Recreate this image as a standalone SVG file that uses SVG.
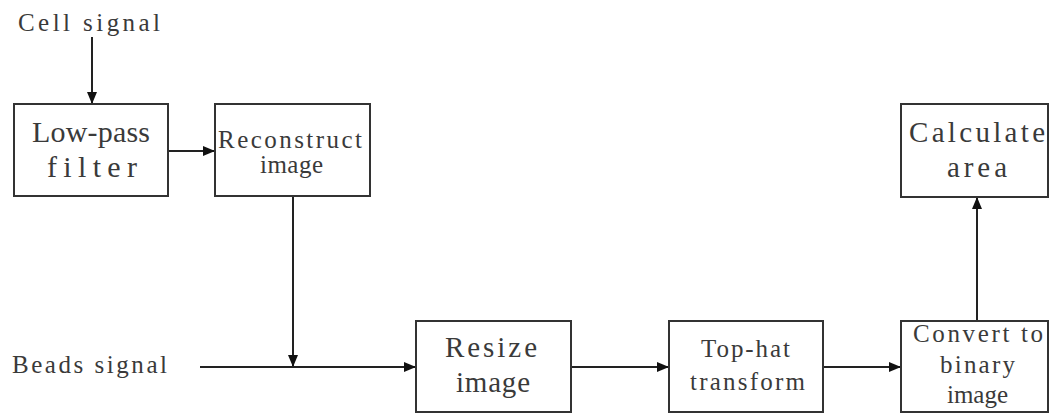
<svg xmlns="http://www.w3.org/2000/svg" width="1050" height="416" viewBox="0 0 1050 416">
<style>
.box{fill:#fff;stroke:#333;stroke-width:2}
.t{font-family:"Liberation Serif","DejaVu Serif",serif;fill:#3a3a3a;text-anchor:middle}
.l{font-family:"Liberation Serif","DejaVu Serif",serif;fill:#3a3a3a;font-size:25px}
.c{stroke:#222;stroke-width:2;fill:none;marker-end:url(#ah)}
</style>
<defs>
<marker id="ah" markerUnits="userSpaceOnUse" markerWidth="12" markerHeight="10" refX="12" refY="5" orient="auto">
<path d="M0,0 L12,5 L0,10 Z" fill="#111"/>
</marker>
</defs>
<rect width="1050" height="416" fill="#fff"/>
<text class="l" x="18" y="31" textLength="142" lengthAdjust="spacing">Cell signal</text>
<text class="l" x="12" y="373" textLength="155" lengthAdjust="spacing">Beads signal</text>
<g id="connectors">
<line class="c" x1="92" y1="37" x2="92" y2="104"/>
<line class="c" x1="168" y1="151" x2="215" y2="151"/>
<line class="c" x1="293" y1="197" x2="293" y2="367"/>
<line class="c" x1="200" y1="367" x2="416" y2="367"/>
<line class="c" x1="571" y1="367" x2="669" y2="367"/>
<line class="c" x1="823" y1="367" x2="901" y2="367"/>
<line class="c" x1="977" y1="321" x2="977" y2="197"/>
</g>
<g id="lowpass">
<rect class="box" x="14" y="104" width="154" height="92"/>
<text class="t" x="91" y="142" font-size="30" textLength="118" lengthAdjust="spacing">Low-pass</text>
<text class="t" x="92" y="177" font-size="30" textLength="90" lengthAdjust="spacing">filter</text>
</g>
<g id="reconstruct">
<rect class="box" x="215" y="104" width="155" height="92"/>
<text class="t" x="290" y="148" font-size="25" textLength="144" lengthAdjust="spacing">Reconstruct</text>
<text class="t" x="291.5" y="173" font-size="25" textLength="63" lengthAdjust="spacing">image</text>
</g>
<g id="resize">
<rect class="box" x="416" y="321" width="155" height="91"/>
<text class="t" x="491" y="357" font-size="29" textLength="92" lengthAdjust="spacing">Resize</text>
<text class="t" x="493" y="392" font-size="29" textLength="74" lengthAdjust="spacing">image</text>
</g>
<g id="tophat">
<rect class="box" x="669" y="321" width="154" height="91"/>
<text class="t" x="745.5" y="357" font-size="25" textLength="89" lengthAdjust="spacing">Top-hat</text>
<text class="t" x="747.5" y="390" font-size="25" textLength="115" lengthAdjust="spacing">transform</text>
</g>
<g id="convert">
<rect class="box" x="901" y="321" width="147" height="91"/>
<text class="t" x="978" y="342" font-size="25" textLength="130" lengthAdjust="spacing">Convert to</text>
<text class="t" x="977.5" y="373" font-size="25" textLength="75" lengthAdjust="spacing">binary</text>
<text class="t" x="977.5" y="403" font-size="25" textLength="61" lengthAdjust="spacing">image</text>
</g>
<g id="calculate">
<rect class="box" x="901" y="104" width="147" height="93"/>
<text class="t" x="977" y="142" font-size="29" textLength="136" lengthAdjust="spacing">Calculate</text>
<text class="t" x="977" y="177" font-size="29" textLength="60" lengthAdjust="spacing">area</text>
</g>
</svg>
